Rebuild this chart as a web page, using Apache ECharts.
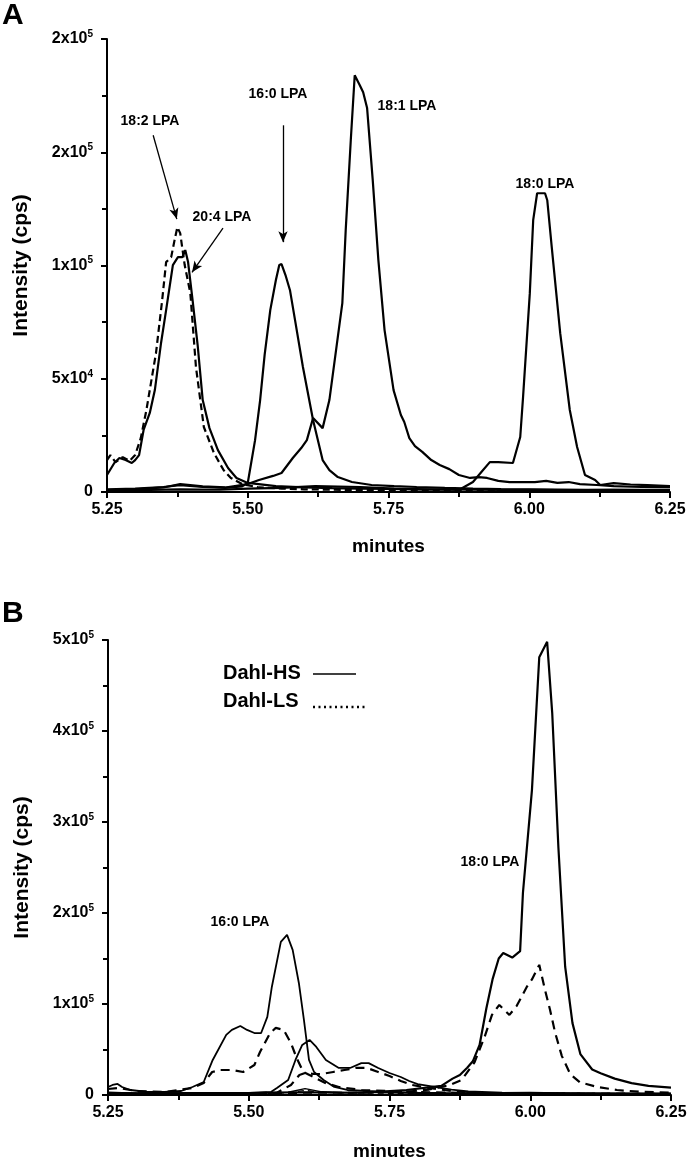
<!DOCTYPE html>
<html>
<head>
<meta charset="utf-8">
<script src="https://cdn.jsdelivr.net/npm/echarts@6/dist/echarts.min.js"></script>
<style>
html,body{margin:0;padding:0;background:#fff;}
#chart{width:690px;height:1164px;}
</style>
</head>
<body>
<div id="chart"></div>
<script>
// ---------- Panel A data (minutes, intensity cps) ----------
const A_204_T = [5.25,5.263,5.272,5.283,5.294,5.300,5.307,5.315,5.326,5.335,5.346,5.355,5.367,5.376,5.384,5.389,5.394,5.402,5.411,5.420,5.432,5.447,5.465,5.480,5.500,5.55,5.60,5.65,5.70,5.75,5.80,5.85,5.90,5.95,6.00,6.05,6.10,6.15,6.20,6.25];
const A_204_V = [7500,12800,15000,14100,12800,14100,16300,27400,34900,45000,65800,80300,100200,103700,103700,106800,101500,84700,64900,40600,28200,18500,10600,6200,4000,2600,2000,1700,1500,1400,1200,1100,1000,900,900,800,800,900,800,900];

const A_182_T = [5.25,5.256,5.265,5.278,5.290,5.300,5.310,5.320,5.337,5.348,5.355,5.364,5.370,5.375,5.380,5.388,5.398,5.408,5.422,5.440,5.457,5.470,5.49,5.52,5.56,5.60,5.65,5.70,5.75,5.80,5.85,5.90,5.95,6.00,6.05,6.10,6.15,6.20,6.25];
const A_182_V = [14100,16300,13200,15400,13700,16300,23800,36200,61300,84700,101500,103700,111200,116900,114300,100200,87800,55200,28700,17200,9700,6200,3500,2000,1500,1200,1000,900,800,800,700,600,600,500,600,500,600,500,500];

const A_160_T = [5.25,5.30,5.35,5.38,5.42,5.46,5.49,5.500,5.513,5.522,5.530,5.540,5.550,5.556,5.560,5.567,5.575,5.584,5.598,5.616,5.633,5.645,5.660,5.685,5.72,5.76,5.80,5.85,5.90,5.95,6.00,6.05,6.10,6.15,6.20,6.25];
const A_160_V = [1200,1500,2200,3000,2200,1800,2500,4000,22900,40600,60500,80300,93600,100200,100600,95800,89100,75900,55200,31800,14100,9700,6600,4400,3100,2600,2200,1800,1500,1300,1200,1100,1000,1000,900,900];

const A_181_T = [5.25,5.30,5.35,5.38,5.42,5.46,5.50,5.52,5.545,5.56,5.58,5.595,5.605,5.616,5.633,5.645,5.668,5.674,5.683,5.690,5.699,5.705,5.712,5.722,5.732,5.743,5.759,5.772,5.778,5.787,5.797,5.810,5.826,5.841,5.858,5.875,5.895,5.910,5.925,5.945,5.965,5.99,6.01,6.03,6.05,6.07,6.09,6.12,6.15,6.20,6.25];
const A_181_V = [800,1200,2000,3500,2500,2000,3500,5300,7100,8400,15000,19400,22900,32700,28200,40600,83400,115600,155300,184000,179600,176500,169500,137700,102400,71500,45000,34000,30900,23800,20300,17700,14100,11900,10100,7500,6200,6600,6200,4900,4400,4400,4400,4900,4000,4400,3500,3100,2600,2200,2200];

const A_180_T = [5.25,5.30,5.38,5.45,5.50,5.56,5.62,5.70,5.76,5.82,5.86,5.875,5.90,5.915,5.93,5.945,5.971,5.984,5.989,6.001,6.007,6.014,6.028,6.032,6.040,6.055,6.072,6.085,6.099,6.117,6.126,6.15,6.18,6.21,6.25];
const A_180_V = [600,800,1200,1000,1500,1800,2600,2200,1500,1200,1000,900,4400,8800,13200,13200,12800,24300,41900,87800,120000,131900,131900,128800,108000,70100,36200,19900,7500,5300,3100,3900,3300,3000,2600];

// ---------- Panel B data ----------
const B_HS160_T = [5.25,5.258,5.267,5.275,5.29,5.32,5.35,5.38,5.40,5.42,5.436,5.46,5.47,5.485,5.497,5.51,5.522,5.533,5.541,5.557,5.568,5.578,5.589,5.598,5.607,5.616,5.633,5.652,5.675,5.71,5.75,5.80,5.85,5.90,5.95,6.00,6.05,6.10,6.15,6.20,6.25];
const B_HS160_V = [8800,11000,12100,8800,5500,3300,3300,4400,8800,14300,38500,66000,71500,75800,71500,68100,68100,85800,118700,168200,176000,159500,123100,82500,38500,25300,16500,8800,5500,4400,3300,2600,2200,2000,2200,2500,2000,1800,1700,1500,1500];

const B_LS160_T = [5.25,5.27,5.30,5.35,5.40,5.42,5.435,5.45,5.47,5.49,5.51,5.52,5.538,5.548,5.562,5.575,5.585,5.597,5.615,5.636,5.66,5.70,5.75,5.80,5.85,5.90,5.95,6.00,6.05,6.10,6.15,6.20,6.25];
const B_LS160_V = [6600,7700,4400,3300,7700,13200,25300,27500,27500,25300,33000,47300,68100,73700,71500,57100,40700,25300,19800,13200,8800,5500,4400,3300,2600,2200,2000,2000,1800,1500,1500,1300,1200];

const B_HS181_T = [5.25,5.30,5.35,5.40,5.45,5.50,5.54,5.55,5.57,5.583,5.595,5.608,5.62,5.637,5.66,5.68,5.70,5.713,5.73,5.75,5.77,5.785,5.80,5.83,5.86,5.89,5.95,6.00,6.05,6.10,6.15,6.20,6.25];
const B_HS181_V = [2000,1800,1500,1800,2000,2200,3500,7700,16500,38500,55000,60500,52800,38500,29700,29700,35000,35000,29700,24200,19800,15400,12000,9000,6000,4000,2500,2200,2000,1800,1600,1500,1500];

const B_LS181_T = [5.25,5.30,5.35,5.40,5.45,5.50,5.55,5.575,5.59,5.60,5.615,5.63,5.65,5.67,5.69,5.71,5.73,5.75,5.77,5.79,5.82,5.86,5.90,5.95,6.00,6.05,6.10,6.15,6.20,6.25];
const B_LS181_V = [1500,1300,1200,1500,1700,1800,2500,11000,22000,24200,23100,23100,25300,27500,29700,29700,25300,20900,15400,11000,7700,4400,2500,1800,1600,1500,1400,1300,1200,1200];

const B_HS180_T = [5.25,5.30,5.40,5.50,5.60,5.70,5.78,5.842,5.862,5.875,5.888,5.898,5.910,5.922,5.933,5.944,5.952,5.968,5.982,5.987,6.003,6.016,6.030,6.039,6.050,6.062,6.075,6.089,6.110,6.125,6.15,6.18,6.21,6.25];
const B_HS180_V = [1500,1800,2000,2200,3000,2500,5500,10000,18000,22000,30000,37000,55000,95000,127000,150000,156000,151000,158000,222000,335000,481000,498000,420000,272000,141000,79000,45000,28000,24000,18000,13000,10000,8000];

const B_LS180_T = [5.25,5.30,5.40,5.50,5.60,5.70,5.78,5.82,5.857,5.878,5.901,5.919,5.932,5.945,5.963,5.976,5.994,6.003,6.016,6.026,6.035,6.044,6.056,6.071,6.088,6.118,6.154,6.195,6.25];
const B_LS180_V = [1500,1500,1700,2000,2500,2500,3500,6000,11000,16500,36000,64000,88000,99000,88000,98000,119000,127000,143000,116000,94000,69000,43000,23000,14000,9000,5500,3500,2500];

const B_OTHER_T = [5.25,5.30,5.40,5.50,5.57,5.60,5.63,5.67,5.72,5.80,5.90,6.00,6.10,6.25];
const B_HSOTHER_V = [3000,2000,1500,2000,3000,7000,3500,2500,3000,2000,1500,1500,1500,1200];
const B_LSOTHER_V = [2000,1500,1200,1500,2500,5000,3000,2000,2200,1500,1200,1200,1000,1000];

// ---------- tick labels ----------
const A_Y_MANT = ['0','5','1','2','2'];
const A_Y_EXP  = ['','4','5','5','5'];
const B_Y_MANT = ['0','1','2','3','4','5'];
const B_Y_EXP  = ['','5','5','5','5','5'];

// ---------- annotation arrows (data coords: [minutes, cps]) ----------
const ARROW_182 = [[5.332,157500],[5.374,120500]];
const ARROW_204 = [[5.456,116500],[5.401,97000]];
const ARROW_160 = [[5.5626,161900],[5.5626,110300]];

const FONT = "'Liberation Sans', Arial, Helvetica, sans-serif";
const zip = (t, v) => t.map((x, i) => [x, v[i]]);

function yFmt(mant, exp, interval) {
  return function (val) {
    const i = Math.round(val / interval);
    if (mant[i] === undefined) return '';
    if (exp[i] === '') return '{m|' + mant[i] + '}';
    return '{m|' + mant[i] + 'x10}{s|' + exp[i] + '}';
  };
}

const rich = {
  m: { fontSize: 16, fontWeight: 'bold', fontFamily: FONT, color: '#000', lineHeight: 20 },
  s: { fontSize: 10, fontWeight: 'bold', fontFamily: FONT, color: '#000', lineHeight: 12, verticalAlign: 'top' }
};

function xAxis(gi) {
  return {
    type: 'value', gridIndex: gi, min: 5.25, max: 6.25, interval: 0.25,
    name: 'minutes', nameLocation: 'middle', nameGap: gi === 0 ? 45 : 47,
    nameTextStyle: { fontSize: 19, fontWeight: 'bold', fontFamily: FONT, color: '#000' },
    axisLine: { show: true, onZero: false, lineStyle: { color: '#000', width: 2 } },
    axisTick: { show: true, inside: false, length: 6, lineStyle: { color: '#000', width: 2 } },
    minorTick: { show: true, splitNumber: 2, length: 5, lineStyle: { color: '#000', width: 2 } },
    splitLine: { show: false },
    axisLabel: { margin: 10, fontSize: 16, fontWeight: 'bold', fontFamily: FONT, color: '#000',
      formatter: v => v.toFixed(2) }
  };
}
function yAxis(gi, max, interval, mant, exp) {
  return {
    type: 'value', gridIndex: gi, min: 0, max: max, interval: interval,
    name: 'Intensity (cps)', nameLocation: 'middle', nameRotate: 90, nameGap: 75,
    nameTextStyle: { fontSize: 21, fontWeight: 'bold', fontFamily: FONT, color: '#000' },
    axisLine: { show: true, lineStyle: { color: '#000', width: 2 } },
    axisTick: { show: true, inside: false, length: 6, lineStyle: { color: '#000', width: 2 } },
    minorTick: { show: true, splitNumber: 2, length: 5, lineStyle: { color: '#000', width: 2 } },
    splitLine: { show: false },
    axisLabel: { margin: 14, formatter: yFmt(mant, exp, interval), rich: rich }
  };
}

function line(name, t, v, gi, opts) {
  return Object.assign({
    name: name, type: 'line', xAxisIndex: gi, yAxisIndex: gi,
    data: zip(t, v), symbol: 'none', smooth: false, animation: false,
    lineStyle: { color: '#000', width: 2, type: 'solid' }
  }, opts || {});
}
function arrow(pts) {
  return {
    silent: true, animation: false, symbol: ['none', 'arrow'], symbolSize: [7, 11],
    label: { show: false },
    lineStyle: { color: '#000', width: 1.3, type: 'solid' },
    data: [[{ coord: pts[0] }, { coord: pts[1] }]]
  };
}

const solidA = { color: '#000', width: 2.2, type: 'solid' };
const dashA  = { color: '#000', width: 2.2, type: [7, 4] };
const solidB = { color: '#000', width: 1.8, type: 'solid' };
const dashB  = { color: '#000', width: 2.2, type: [9, 6] };
const thinB  = { color: '#000', width: 1.4, type: 'solid' };
const thinBd = { color: '#000', width: 1.4, type: [6, 4] };

function ctext(x, y, s, size) {
  return { type: 'text', x: x, y: y, style: { text: s, fontSize: size, fontWeight: 'bold', fontFamily: FONT, fill: '#000', align: 'center', verticalAlign: 'middle' } };
}
function ltext(x, y, s, size) {
  return { type: 'text', x: x, y: y, style: { text: s, fontSize: size, fontWeight: 'bold', fontFamily: FONT, fill: '#000', align: 'left', verticalAlign: 'middle' } };
}

const chart = echarts.init(document.getElementById('chart'), null, { renderer: 'canvas' });
chart.setOption({
  backgroundColor: '#fff',
  animation: false,
  grid: [
    { left: 107, right: 20, top: 39, height: 453 },
    { left: 108, right: 19, top: 640, height: 455 }
  ],
  xAxis: [xAxis(0), xAxis(1)],
  yAxis: [yAxis(0, 200000, 50000, A_Y_MANT, A_Y_EXP), yAxis(1, 500000, 100000, B_Y_MANT, B_Y_EXP)],
  series: [
    line('18:0 LPA', A_180_T, A_180_V, 0, { lineStyle: solidA }),
    line('18:1 LPA', A_181_T, A_181_V, 0, { lineStyle: solidA }),
    line('16:0 LPA', A_160_T, A_160_V, 0, { lineStyle: solidA, markLine: arrow(ARROW_160) }),
    line('20:4 LPA', A_204_T, A_204_V, 0, { lineStyle: solidA, markLine: arrow(ARROW_204) }),
    line('18:2 LPA', A_182_T, A_182_V, 0, { lineStyle: dashA, markLine: arrow(ARROW_182) }),

    line('HS other', B_OTHER_T, B_HSOTHER_V, 1, { lineStyle: thinB }),
    line('LS other', B_OTHER_T, B_LSOTHER_V, 1, { lineStyle: thinBd }),
    line('HS 18:1', B_HS181_T, B_HS181_V, 1, { lineStyle: solidB }),
    line('LS 18:1', B_LS181_T, B_LS181_V, 1, { lineStyle: dashB }),
    line('HS 16:0', B_HS160_T, B_HS160_V, 1, { lineStyle: solidB }),
    line('LS 16:0', B_LS160_T, B_LS160_V, 1, { lineStyle: dashB }),
    line('HS 18:0', B_HS180_T, B_HS180_V, 1, { lineStyle: { color: '#000', width: 2.2, type: 'solid' } }),
    line('LS 18:0', B_LS180_T, B_LS180_V, 1, { lineStyle: dashB })
  ],
  graphic: [
    ltext(2, 16, 'A', 30),
    ltext(2, 614, 'B', 30),
    ctext(150, 121, '18:2 LPA', 14),
    ctext(222, 217, '20:4 LPA', 14),
    ctext(278, 94, '16:0 LPA', 14),
    ctext(407, 106, '18:1 LPA', 14),
    ctext(545, 184, '18:0 LPA', 14),
    ctext(240, 922, '16:0 LPA', 14),
    ctext(490, 862, '18:0 LPA', 14),
    ltext(223, 673, 'Dahl-HS', 20),
    ltext(223, 701, 'Dahl-LS', 20),
    { type: 'line', shape: { x1: 313, y1: 674, x2: 356, y2: 674 }, style: { stroke: '#000', lineWidth: 1.5 } },
    { type: 'line', shape: { x1: 313, y1: 707, x2: 366, y2: 707 }, style: { stroke: '#000', lineWidth: 2.5, lineDash: [2, 3.5] } }
  ]
});
</script>
</body>
</html>
